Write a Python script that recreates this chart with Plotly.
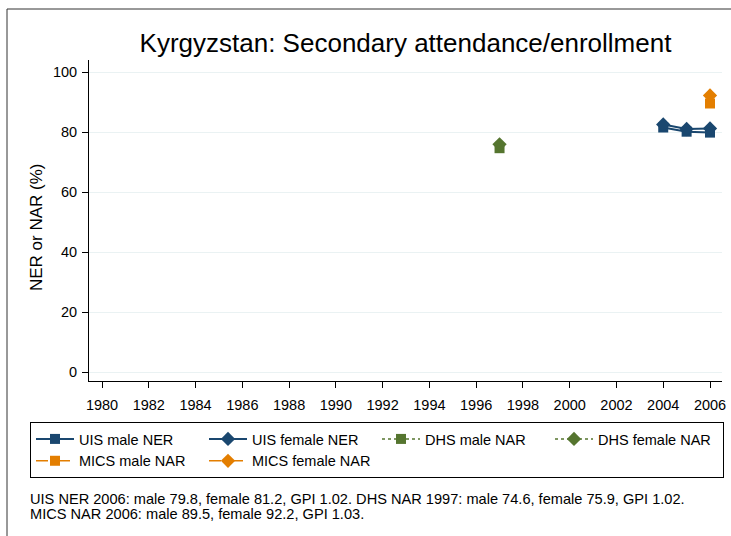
import plotly.graph_objects as go

# ---- data ----
years_uis = [2004, 2005, 2006]
uis_male = [81.5, 80.1, 79.8]
uis_female = [82.5, 81.0, 81.2]
years_dhs = [1997]
dhs_male = [74.6]
dhs_female = [75.9]
years_mics = [2006]
mics_male = [89.5]
mics_female = [92.2]
x_ticks = list(range(1980, 2007, 2))
y_ticks = [0, 20, 40, 60, 80, 100]
title_text = "Kyrgyzstan: Secondary attendance/enrollment"
y_title = "NER or NAR (%)"
footnote_lines = [
    "UIS NER 2006: male 79.8, female 81.2, GPI 1.02. DHS NAR 1997: male 74.6, female 75.9, GPI 1.02.",
    "MICS NAR 2006: male 89.5, female 92.2, GPI 1.03.",
]

NAVY = "#1a476f"
GREEN = "#55752f"
ORANGE = "#e37e00"
FONT = "Arial, Liberation Sans, sans-serif"

W, H = 731, 536
L, R, T, B = 89, 9, 60, 155
pw, ph = W - L - R, H - T - B


def px_x(p):
    return (p - L) / pw


def px_y(p):
    return (H - B - p) / ph


fig = go.Figure()
fig.add_trace(go.Scatter(x=years_uis, y=uis_male, name="UIS male NER", mode="lines+markers",
                         line=dict(color=NAVY, width=2), marker=dict(symbol="square", size=10, color=NAVY)))
fig.add_trace(go.Scatter(x=years_uis, y=uis_female, name="UIS female NER", mode="lines+markers",
                         line=dict(color=NAVY, width=2), marker=dict(symbol="diamond", size=11, color=NAVY)))
fig.add_trace(go.Scatter(x=years_dhs, y=dhs_male, name="DHS male NAR", mode="lines+markers",
                         line=dict(color=GREEN, width=1.5, dash="3px,3px"),
                         marker=dict(symbol="square", size=10, color=GREEN)))
fig.add_trace(go.Scatter(x=years_dhs, y=dhs_female, name="DHS female NAR", mode="lines+markers",
                         line=dict(color=GREEN, width=1.5, dash="3px,3px"),
                         marker=dict(symbol="diamond", size=11, color=GREEN)))
fig.add_trace(go.Scatter(x=years_mics, y=mics_male, name="MICS male NAR", mode="lines+markers",
                         line=dict(color=ORANGE, width=1.5, dash="12px,4px,2px,4px"),
                         marker=dict(symbol="square", size=10, color=ORANGE)))
fig.add_trace(go.Scatter(x=years_mics, y=mics_female, name="MICS female NAR", mode="lines+markers",
                         line=dict(color=ORANGE, width=1.5, dash="12px,4px,2px,4px"),
                         marker=dict(symbol="diamond", size=11, color=ORANGE)))

x_lo = 1980 - 13 / ((710 - 102) / 26)
x_hi = 2006 + 12 / ((710 - 102) / 26)

fig.update_layout(
    width=W, height=H,
    margin=dict(l=L, r=R, t=T, b=B, autoexpand=False),
    paper_bgcolor="white", plot_bgcolor="white",
    font=dict(family=FONT, size=14, color="#000"),
    title=dict(text=title_text, x=(L + pw / 2) / W, xanchor="center", y=1 - 43 / H, yanchor="middle",
               font=dict(size=26, family=FONT, color="#000")),
    xaxis=dict(range=[x_lo, x_hi], tickmode="array", tickvals=x_ticks, showgrid=False, zeroline=False,
               showline=True, linecolor="#000", linewidth=1, ticks="outside", ticklen=6,
               tickcolor="#000", tickfont=dict(size=14.5), ticklabelstandoff=5),
    yaxis=dict(range=[-3, 104], tickmode="array", tickvals=y_ticks, showgrid=True, gridcolor="#eaf2f3",
               gridwidth=1, zeroline=False, showline=True, linecolor="#000", linewidth=1,
               ticks="outside", ticklen=6, tickcolor="#000", tickfont=dict(size=14.5), ticklabelstandoff=2),
    showlegend=True,
    legend=dict(orientation="h", x=px_x(30), y=px_y(422), xanchor="left", yanchor="top",
                bordercolor="#000", borderwidth=1, bgcolor="white",
                font=dict(size=14.5, family=FONT), entrywidth=120, entrywidthmode="pixels",
                itemwidth=38, traceorder="normal"),
)

fig.add_annotation(text=y_title, textangle=-90, xref="paper", yref="paper",
                   x=px_x(37), y=px_y(227), xanchor="center", yanchor="middle",
                   showarrow=False, font=dict(size=17, family=FONT))
for i, line in enumerate(footnote_lines):
    fig.add_annotation(text=line, xref="paper", yref="paper", x=px_x(28), y=px_y(499 + 15 * i),
                       xanchor="left", yanchor="middle", align="left", showarrow=False,
                       font=dict(size=14.6, family=FONT))

# outer frame (extends beyond the visible area)
fig.add_shape(type="path", xref="paper", yref="paper",
              path=f"M {px_x(7)} {px_y(560)} L {px_x(7)} {px_y(9)} L {px_x(760)} {px_y(9)}",
              line=dict(color="#333", width=1))

fig.write_html("out.html", config={"displayModeBar": False},
               post_script="document.body.style.margin='0';document.body.style.padding='0';")
